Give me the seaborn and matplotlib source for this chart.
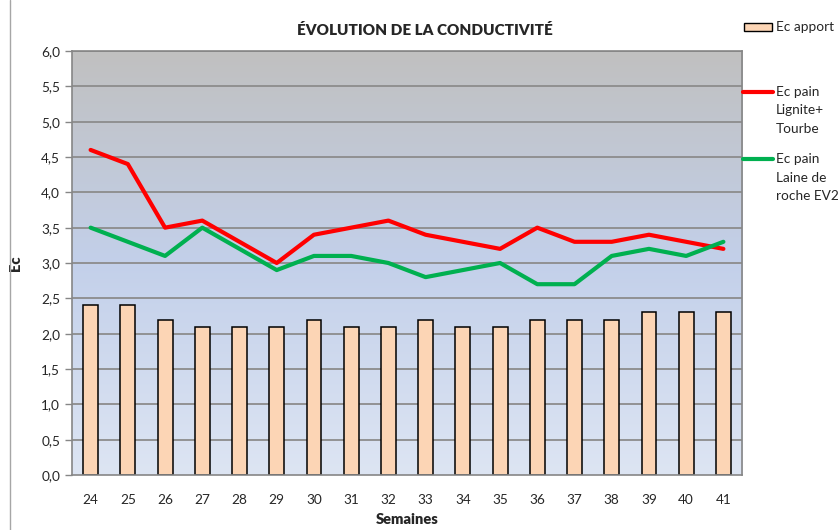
import numpy as np
import seaborn as sns
import matplotlib.pyplot as plt
from matplotlib.lines import Line2D
from matplotlib.patches import Rectangle
from matplotlib.colors import LinearSegmentedColormap
from matplotlib.ticker import FixedLocator, FuncFormatter

# données
semaines = ['24', '25', '26', '27', '28', '29', '30', '31', '32',
            '33', '34', '35', '36', '37', '38', '39', '40', '41']
ec_apport = [2.4, 2.4, 2.2, 2.1, 2.1, 2.1, 2.2, 2.1, 2.1,
             2.2, 2.1, 2.1, 2.2, 2.2, 2.2, 2.3, 2.3, 2.3]
ec_lignite = [4.6, 4.4, 3.5, 3.6, 3.3, 3.0, 3.4, 3.5, 3.6,
              3.4, 3.3, 3.2, 3.5, 3.3, 3.3, 3.4, 3.3, 3.2]
ec_laine = [3.5, 3.3, 3.1, 3.5, 3.2, 2.9, 3.1, 3.1, 3.0,
            2.8, 2.9, 3.0, 2.7, 2.7, 3.1, 3.2, 3.1, 3.3]

sns.set_style('white')
plt.rcParams['font.family'] = ['Lato', 'DejaVu Sans']

fig = plt.figure(figsize=(8.38, 5.30), dpi=100)
ax = fig.add_axes([72 / 838, 1 - 475 / 530, 670 / 838, 424 / 530])

# fond dégradé gris -> bleu -> bleu clair
cmap = LinearSegmentedColormap.from_list(
    'fond', [(0.0, '#dde5f3'), (0.5, '#c3d0ea'), (1.0, '#c0c0c0')])
grad = np.linspace(0, 1, 256).reshape(-1, 1)
ax.imshow(grad, cmap=cmap, aspect='auto', origin='lower',
          extent=(-0.5, len(semaines) - 0.5, 0, 6), zorder=0)

for y in np.arange(0.5, 6.01, 0.5):
    ax.axhline(y, color='#8c8c8c', lw=1.3, zorder=1)

sns.barplot(x=semaines, y=ec_apport, color='#fcd5b5', edgecolor='black',
            linewidth=1.1, width=0.4, saturation=1, ax=ax, zorder=2)
sns.pointplot(x=semaines, y=ec_lignite, color='#ff0000', markers='',
              linewidth=3, errorbar=None, ax=ax, zorder=3)
sns.pointplot(x=semaines, y=ec_laine, color='#00b050', markers='',
              linewidth=3, errorbar=None, ax=ax, zorder=3)

ax.set_xlim(-0.5, len(semaines) - 0.5)
ax.set_ylim(0, 6)
ax.set_yticks(np.arange(0, 6.01, 0.5))
ax.yaxis.set_major_formatter(FuncFormatter(lambda v, p: f'{v:.1f}'.replace('.', ',')))
ax.xaxis.set_minor_locator(FixedLocator(np.arange(-0.5, len(semaines), 1)))
ax.tick_params(axis='x', which='major', length=0, pad=14, labelsize=9.8)
ax.tick_params(axis='x', which='minor', length=5, color='#868686', width=1)
ax.tick_params(axis='y', which='major', length=5, color='#868686', width=1,
               labelsize=9.8, left=True)
for s in ax.spines.values():
    s.set_color('#868686')
    s.set_linewidth(1.2)
    s.set_visible(True)

ax.set_xlabel('Semaines', fontweight='heavy', fontsize=10.5, labelpad=5)
ax.set_ylabel('Ec', fontweight='heavy', fontsize=10.5, labelpad=14)

fig.text(425 / 838, 1 - 30 / 530, 'ÉVOLUTION DE LA CONDUCTIVITÉ',
         ha='center', va='center', fontweight='heavy', fontsize=11)

# légende à droite
fig.add_artist(Rectangle((744 / 838, 1 - 31 / 530), 28 / 838, 8 / 530,
                         facecolor='#fcd5b5', edgecolor='black', lw=1,
                         transform=fig.transFigure))
fig.text(776 / 838, 1 - 27 / 530, 'Ec apport', va='center', fontsize=9.8)
for ytop, col, lignes in [(92, '#ff0000', ['Ec pain', 'Lignite+', 'Tourbe']),
                          (159, '#00b050', ['Ec pain', 'Laine de', 'roche EV2'])]:
    fig.add_artist(Line2D([743 / 838, 773 / 838], [1 - ytop / 530] * 2,
                          color=col, lw=3, transform=fig.transFigure))
    for i, t in enumerate(lignes):
        fig.text(776 / 838, 1 - (ytop + 18.5 * i) / 530, t, va='center', fontsize=9.8)

# bord gauche du graphique
fig.add_artist(Line2D([10 / 838, 10 / 838], [0, 1], color='#a6a6a6', lw=1,
                      transform=fig.transFigure))

fig.savefig('out.png', dpi=100)
